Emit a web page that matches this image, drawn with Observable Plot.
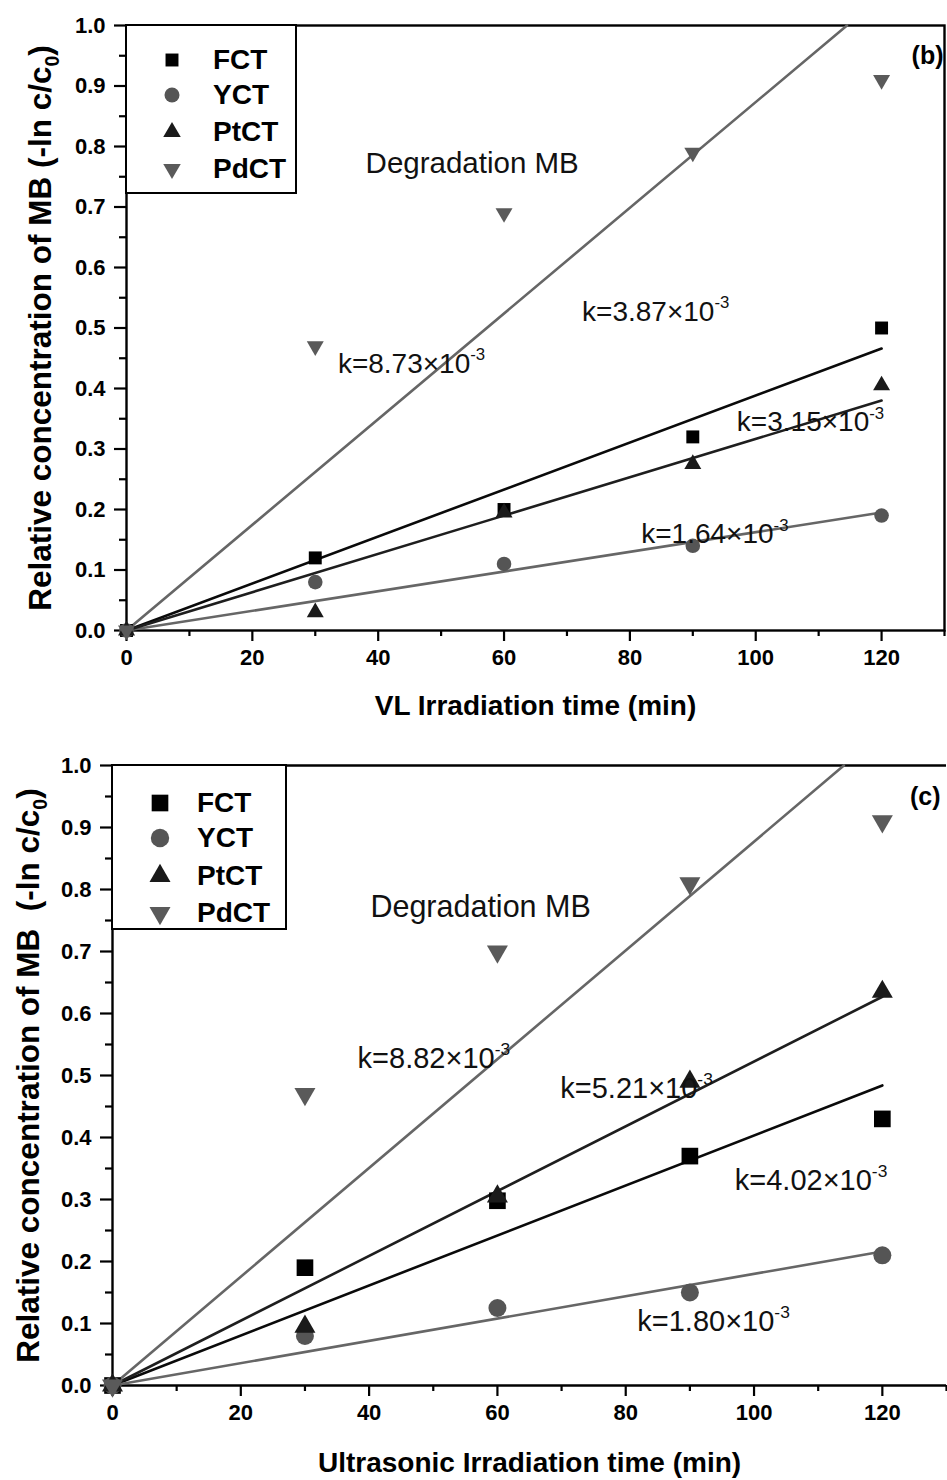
<!DOCTYPE html>
<html>
<head>
<meta charset="utf-8">
<script src="https://cdn.jsdelivr.net/npm/d3@7"></script>
<script src="https://cdn.jsdelivr.net/npm/@observablehq/plot@0.6"></script>
<style>
  body { margin: 0; background: #fff; }
  #root { position: relative; width: 947px; height: 1480px; font-family: "Liberation Sans", Arial, sans-serif; overflow: hidden; }
  .panel { position: absolute; left: 0; width: 947px; height: 740px; }
  .legend { position: absolute; border: 2px solid #000; background: #fff; box-sizing: border-box; }
  .row { position: absolute; left: 0; height: 36px; }
  .row span { font-weight: bold; color: #000; position: absolute; white-space: nowrap; }
  .row svg { position: absolute; overflow: visible; }
</style>
</head>
<body>
<div id="root"></div>
<script>
// ---------- data ----------
const times = [0, 30, 60, 90, 120];
const seriesNames = ["FCT", "YCT", "PtCT", "PdCT"];

// Panel (b): visible-light irradiation, -ln(c/c0)
const vlFCT  = [0, 0.12, 0.20, 0.32, 0.50];
const vlYCT  = [0, 0.08, 0.11, 0.14, 0.19];
const vlPtCT = [0, 0.03, 0.195, 0.275, 0.405];
const vlPdCT = [0, 0.47, 0.69, 0.79, 0.91];
// fitted lines (start and end points)
const vlFitFCT  = [[0, 0], [120, 0.466]];
const vlFitYCT  = [[0, 0], [120, 0.195]];
const vlFitPtCT = [[0, 0], [120, 0.380]];
const vlFitPdCT = [[0, 0], [114.5, 1.0]];

// Panel (c): ultrasonic irradiation
const usFCT  = [0, 0.19, 0.298, 0.37, 0.43];
const usYCT  = [0, 0.08, 0.125, 0.15, 0.21];
const usPtCT = [0, 0.095, 0.305, 0.49, 0.635];
const usPdCT = [0, 0.47, 0.70, 0.81, 0.91];
const usFitFCT  = [[0, 0], [120, 0.484]];
const usFitYCT  = [[0, 0], [120, 0.216]];
const usFitPtCT = [[0, 0], [120, 0.627]];
const usFitPdCT = [[0, 0], [114, 1.0]];

// annotations (data coordinates)
const annB = [
  {text: "Degradation MB", x: 38.0, y: 0.772},
  {text: "k=3.87×10^-3", x: 72.4, y: 0.527},
  {text: "k=8.73×10^-3", x: 33.6, y: 0.441},
  {text: "k=3.15×10^-3", x: 97.0, y: 0.344},
  {text: "k=1.64×10^-3", x: 81.8, y: 0.159}
];
const annC = [
  {text: "Degradation MB", x: 40.2, y: 0.771},
  {text: "k=8.82×10^-3", x: 38.2, y: 0.527},
  {text: "k=5.21×10^-3", x: 69.8, y: 0.478},
  {text: "k=4.02×10^-3", x: 97.0, y: 0.331},
  {text: "k=1.80×10^-3", x: 81.8, y: 0.103}
];

const xMajor = [0, 20, 40, 60, 80, 100, 120];
const xMinor = [10, 30, 50, 70, 90, 110, 130];
const yMajor = [0, 0.1, 0.2, 0.3, 0.4, 0.5, 0.6, 0.7, 0.8, 0.9, 1.0];
const yMinor = [0.05, 0.15, 0.25, 0.35, 0.45, 0.55, 0.65, 0.75, 0.85, 0.95];

const yTitleB = "Relative concentration of MB (-ln c/c_0)";
const yTitleC = "Relative concentration of MB  (-ln c/c_0)";

// ---------- styles ----------
const style = {
  FCT:  {symbol: "square",   fill: "#000000", line: "#0a0a0a", rotate: 0},
  YCT:  {symbol: "circle",   fill: "#555555", line: "#666666", rotate: 0},
  PtCT: {symbol: "triangle", fill: "#1a1a1a", line: "#1e1e1e", rotate: 0},
  PdCT: {symbol: "triangle", fill: "#5a5a5a", line: "#666666", rotate: 180}
};

function table(vals) {
  return times.map((t, i) => ({t, v: vals[i]}));
}

function buildPanel(cfg) {
  const marks = [];
  if (cfg.fullFrame) {
    marks.push(Plot.frame({stroke: "#000", strokeWidth: 2.4}));
  } else {
    marks.push(Plot.ruleY([0, 1], {stroke: "#000", strokeWidth: 2.4}));
    marks.push(Plot.ruleX([0], {stroke: "#000", strokeWidth: 2.4}));
  }
  marks.push(Plot.axisY(yMajor, {tickSize: 12, tickPadding: 9, tickFormat: d3.format(".1f"), fontSize: 22, fontWeight: "bold", strokeWidth: 2.2, label: null}));
  marks.push(Plot.axisY(yMinor, {tickSize: 7, tickFormat: () => "", strokeWidth: 2.2, label: null}));
  marks.push(Plot.axisX(xMajor, {tickSize: 11, tickPadding: 8, fontSize: 22, fontWeight: "bold", strokeWidth: 2.2, label: null}));
  marks.push(Plot.axisX(xMinor, {tickSize: 6, tickFormat: () => "", strokeWidth: 2.2, label: null}));
  seriesNames.forEach(name => {
    const pts = cfg.fits[name].map(([t, v]) => ({t, v}));
    marks.push(Plot.line(pts, {x: "t", y: "v", stroke: style[name].line, strokeWidth: 2.6}));
  });
  seriesNames.forEach(name => {
    const s = style[name];
    marks.push(Plot.dot(table(cfg.values[name]), {
      x: "t", y: "v", symbol: () => s.symbol, fill: s.fill, stroke: "none",
      r: cfg.r[name], rotate: s.rotate
    }));
  });
  marks.push(Plot.text(cfg.ann.filter(d => d.text.startsWith("k")), {x: "x", y: "y", text: "text", textAnchor: "start", fontSize: cfg.annSize, fill: "#111"}));
  marks.push(Plot.text(cfg.ann.filter(d => !d.text.startsWith("k")), {x: "x", y: "y", text: "text", textAnchor: "start", fontSize: cfg.annSize + 1.5, fill: "#111"}));
  marks.push(Plot.text([cfg.tag], {frameAnchor: "top-right", text: d => d, textAnchor: "end", dx: cfg.tagDx, dy: cfg.tagDy, fontSize: 25, fontWeight: "bold", fill: "#000"}));
  marks.push(Plot.text([cfg.xTitle], {frameAnchor: "bottom", text: d => d, textAnchor: "middle", dy: cfg.xTitleDy, fontSize: 28, fontWeight: "bold", fill: "#000"}));
  marks.push(Plot.text([cfg.yTitle], {frameAnchor: "left", text: d => d, textAnchor: "middle", rotate: -90, dx: cfg.yTitleDx, fontSize: cfg.yTitleSize, fontWeight: "bold", fill: "#000"}));

  return Plot.plot({
    width: 947, height: 740,
    marginLeft: cfg.ml, marginRight: cfg.mr, marginTop: 25, marginBottom: cfg.mb,
    x: {domain: [0, 130]},
    y: {domain: [0, 1]},
    style: {fontFamily: "'Liberation Sans', Arial, sans-serif", background: "transparent", overflow: "visible"},
    marks
  });
}

function richText(svg) {
  d3.select(svg).selectAll("text").each(function() {
    const t = this.textContent;
    if (!/[\^_]/.test(t)) return;
    const fs = parseFloat(getComputedStyle(this).fontSize) || 24;
    const parts = t.split(/(\^-?\d+|_\d+)/).filter(p => p.length);
    this.textContent = "";
    const sel = d3.select(this);
    let shift = 0;
    parts.forEach(p => {
      const ts = sel.append("tspan");
      let target = 0;
      if (p.startsWith("^")) { target = -0.45 * fs; ts.attr("font-size", fs * 0.6).text(p.slice(1)); }
      else if (p.startsWith("_")) { target = 0.28 * fs; ts.attr("font-size", fs * 0.62).text(p.slice(1)); }
      else { ts.text(p); }
      ts.attr("dy", target - shift);
      shift = target;
    });
  });
}

function buildLegend(container, cfg) {
  const lg = document.createElement("div");
  lg.className = "legend";
  Object.assign(lg.style, {left: cfg.left + "px", top: cfg.top + "px", width: cfg.w + "px", height: cfg.h + "px"});
  seriesNames.forEach((name, i) => {
    const s = style[name];
    const row = document.createElement("div");
    row.className = "row";
    row.style.top = (cfg.rows[i] - 18) + "px";
    row.style.width = "100%";
    const sv = d3.create("svg").attr("width", 1).attr("height", 1)
      .style("left", cfg.symX + "px").style("top", "18px");
    const type = s.symbol === "square" ? d3.symbolSquare : s.symbol === "circle" ? d3.symbolCircle : d3.symbolTriangle;
    const r = cfg.r[name];
    sv.append("path").attr("d", d3.symbol(type, Math.PI * r * r)()).attr("fill", s.fill)
      .attr("transform", `rotate(${s.rotate})`);
    row.appendChild(sv.node());
    const sp = document.createElement("span");
    sp.textContent = name;
    sp.style.left = cfg.textX + "px";
    sp.style.fontSize = cfg.fs + "px";
    sp.style.top = "50%";
    sp.style.transform = "translateY(-50%)";
    row.appendChild(sp);
    lg.appendChild(row);
  });
  container.appendChild(lg);
}

const root = document.getElementById("root");

// Panel (b)
const pb = document.createElement("div");
pb.className = "panel"; pb.style.top = "0px";
root.appendChild(pb);
const svgB = buildPanel({
  fullFrame: true, ml: 126, mr: 3, mb: 110,
  values: {FCT: vlFCT, YCT: vlYCT, PtCT: vlPtCT, PdCT: vlPdCT},
  fits: {FCT: vlFitFCT, YCT: vlFitYCT, PtCT: vlFitPtCT, PdCT: vlFitPdCT},
  r: {FCT: 7.3, YCT: 7.3, PtCT: 6.3, PdCT: 6.3},
  ann: annB, annSize: 28,
  tag: "(b)", tagDx: -1, tagDy: 21,
  xTitle: "VL Irradiation time (min)", xTitleDy: 84,
  yTitle: yTitleB, yTitleDx: -86, yTitleSize: 31.5
});
pb.appendChild(svgB);
richText(svgB);
buildLegend(pb, {left: 125, top: 24, w: 172, h: 170, rows: [34, 69, 106, 143], symX: 45, textX: 86, fs: 28,
  r: {FCT: 7.3, YCT: 7.5, PtCT: 6.5, PdCT: 6.5}});

// Panel (c)
const pc = document.createElement("div");
pc.className = "panel"; pc.style.top = "740px";
root.appendChild(pc);
const svgC = buildPanel({
  fullFrame: false, ml: 112, mr: 1, mb: 95,
  values: {FCT: usFCT, YCT: usYCT, PtCT: usPtCT, PdCT: usPdCT},
  fits: {FCT: usFitFCT, YCT: usFitYCT, PtCT: usFitPtCT, PdCT: usFitPdCT},
  r: {FCT: 9.4, YCT: 9, PtCT: 7.8, PdCT: 7.8},
  ann: annC, annSize: 29,
  tag: "(c)", tagDx: -6, tagDy: 22,
  xTitle: "Ultrasonic Irradiation time (min)", xTitleDy: 86,
  yTitle: yTitleC, yTitleDx: -84, yTitleSize: 31.5
});
pc.appendChild(svgC);
richText(svgC);
buildLegend(pc, {left: 111, top: 24, w: 176, h: 166, rows: [37, 72, 110, 147], symX: 47, textX: 84, fs: 28,
  r: {FCT: 9.4, YCT: 9.2, PtCT: 7.8, PdCT: 7.8}});
</script>
</body>
</html>
